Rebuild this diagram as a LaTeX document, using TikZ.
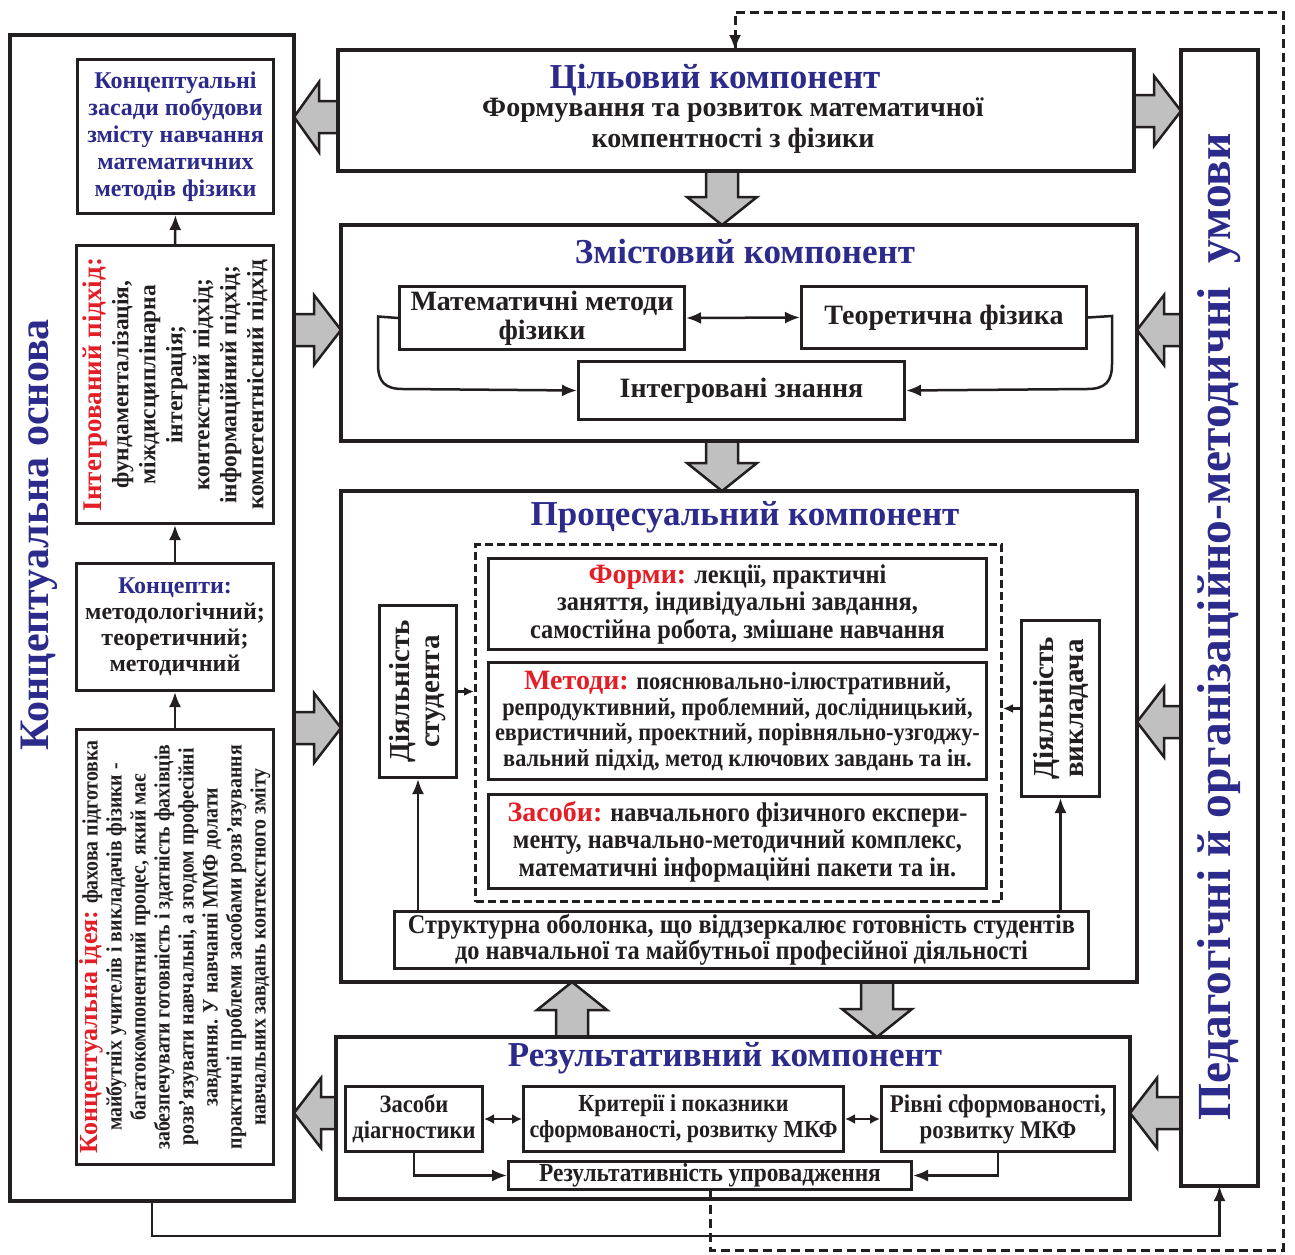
\documentclass[tikz,border=0pt]{standalone}
\usepackage{fontspec}
\setmainfont{Liberation Serif}
\newfontfamily\cnd{Liberation Serif}[FakeStretch=0.9]
\newfontfamily\rgl{Liberation Serif}
\usetikzlibrary{arrows.meta,calc}
\definecolor{tblue}{RGB}{44,42,138}
\definecolor{tred}{RGB}{228,30,38}
\definecolor{agrey}{RGB}{192,192,192}
\definecolor{ink}{RGB}{35,31,32}
\newcommand\hblk[3]{\draw[blk] ($(#1)+(0,-16)$) -- ($(#2)+(#3,-16)$) -- ($(#2)+(#3,-35)$) -- (#2) -- ($(#2)+(#3,35)$) -- ($(#2)+(#3,16)$) -- ($(#1)+(0,16)$) -- cycle;}
\newcommand\vblk[3]{\draw[blk] ($(#1)+(-16,0)$) -- ($(#2)+(-16,#3)$) -- ($(#2)+(-35,#3)$) -- (#2) -- ($(#2)+(35,#3)$) -- ($(#2)+(16,#3)$) -- ($(#1)+(16,0)$) -- cycle;}
\begin{document}
\begin{tikzpicture}[x=1pt,y=-1pt,
  bigbox/.style={draw=ink, line width=4pt, inner sep=0pt, anchor=north west},
  sbox/.style={draw=ink, line width=3pt, fill=white, inner sep=0pt, anchor=north west, align=center, text=ink},
  conn/.style={draw=ink, line width=2.5pt, -{Latex[length=15pt,width=12pt]}},
  sconn/.style={draw=ink, line width=2.5pt, {Latex[length=10pt,width=10pt]}-{Latex[length=10pt,width=10pt]}},
  dconn/.style={draw=ink, line width=2.5pt, {Latex[length=15pt,width=12pt]}-{Latex[length=15pt,width=12pt]}},
  blk/.style={draw=ink, line width=2.5pt, fill=agrey, line join=miter},
  dline/.style={draw=ink, line width=3pt, dash pattern=on 9pt off 5pt},
  ttl/.style={inner sep=0pt, text=tblue, font=\bfseries\fontsize{35}{40}\selectfont},
  body/.style={inner sep=0pt, align=center, text=ink}
]
\useasboundingbox (0,0) rectangle (1295,1254);

% ---------- frames (positions) ----------
\path (10,35) node[bigbox, draw=none, minimum width=280pt, minimum height=1162pt] (lb) {};
\path (338,50) node[bigbox, draw=none, minimum width=792pt, minimum height=117pt] (cil) {};
\path (341,225) node[bigbox, draw=none, minimum width=792pt, minimum height=212pt] (zm) {};
\path (341,491) node[bigbox, draw=none, minimum width=792pt, minimum height=487pt] (pr) {};
\path (336,1037) node[bigbox, draw=none, minimum width=790pt, minimum height=158pt] (rz) {};
\path (1181,50) node[bigbox, draw=none, minimum width=73pt, minimum height=1132pt] (rb) {};

% ---------- block arrows ----------
\coordinate (a1t) at (cil.west |- 0,117); \coordinate (a1h) at (lb.east |- 0,117);
\coordinate (a2t) at (cil.east |- 0,111); \coordinate (a2h) at (rb.west |- 0,111);
\coordinate (a3t) at (lb.east |- 0,330);  \coordinate (a3h) at (zm.west |- 0,330);
\coordinate (a4t) at (rb.west |- 0,330);  \coordinate (a4h) at (zm.east |- 0,330);
\coordinate (a5t) at (lb.east |- 0,728);  \coordinate (a5h) at (pr.west |- 0,728);
\coordinate (a6t) at (rb.west |- 0,722);  \coordinate (a6h) at (pr.east |- 0,722);
\coordinate (a7t) at (rz.west |- 0,1113); \coordinate (a7h) at (lb.east |- 0,1113);
\coordinate (a8t) at (rb.west |- 0,1113); \coordinate (a8h) at (rz.east |- 0,1113);
\hblk{a1t}{a1h}{25}
\hblk{a2t}{a2h}{-27}
\hblk{a3t}{a3h}{-27}
\hblk{a4t}{a4h}{27}
\hblk{a5t}{a5h}{-27}
\hblk{a6t}{a6h}{27}
\hblk{a7t}{a7h}{27}
\hblk{a8t}{a8h}{27}
\coordinate (v1t) at (cil.south -| 722,0); \coordinate (v1h) at (zm.north -| 722,0);
\coordinate (v2t) at (zm.south -| 722,0);  \coordinate (v2h) at (pr.north -| 722,0);
\coordinate (v3t) at (rz.north -| 572,0);  \coordinate (v3h) at (pr.south -| 572,0);
\coordinate (v4t) at (pr.south -| 877,0);  \coordinate (v4h) at (rz.north -| 877,0);
\vblk{v1t}{v1h}{-28}
\vblk{v2t}{v2h}{-28}
\vblk{v3t}{v3h}{28}
\vblk{v4t}{v4h}{-28}

% ---------- big frames drawn ----------
\draw[ink, line width=4pt] (lb.north west) rectangle (lb.south east);
\draw[ink, line width=4pt] (cil.north west) rectangle (cil.south east);
\draw[ink, line width=4pt] (zm.north west) rectangle (zm.south east);
\draw[ink, line width=4pt] (pr.north west) rectangle (pr.south east);
\draw[ink, line width=4pt] (rz.north west) rectangle (rz.south east);
\draw[ink, line width=4pt] (rb.north west) rectangle (rb.south east);

% ---------- left column ----------
\node[sbox, minimum width=196pt, minimum height=154pt, text=tblue,
      font=\bfseries\fontsize{24}{27}\selectfont] (b1) at (76,58)
  {Концептуальні\\засади побудови\\змісту навчання\\математичних\\методів фізики};
\node[sbox, minimum width=197pt, minimum height=278pt] (b2) at (75,244) {};
\node[body, rotate=90, font=\bfseries\fontsize{23.5}{27}\selectfont] at (b2.center)
  {{\color{tred}\fontsize{27}{27}\selectfont Інтегрований підхід:}\\фундаменталізація,\\міждисциплінарна\\інтеграція;\\контекстний підхід;\\інформаційний підхід;\\компетентнісний підхід};
\node[sbox, minimum width=197pt, minimum height=127pt,
      font=\bfseries\fontsize{24}{26}\selectfont] (b3) at (75,562)
  {{\color{tblue}Концепти:}\\методологічний;\\теоретичний;\\методичний};
\node[sbox, minimum width=197pt, minimum height=435pt] (b4) at (75,728) {};
\node[body, rotate=90, font=\cnd\bfseries\fontsize{22}{24}\selectfont] at (b4.center)
  {{\color{tred}\rgl\bfseries\fontsize{26}{24}\selectfont Концептуальна ідея:} фахова підготовка\\
   майбутніх учителів і викладачів фізики -\\
   багатокомпонентний процес, який має\\
   забезпечувати готовність і здатність фахівців\\
   розв’язувати навчальні, а згодом професійні\\
   завдання. У навчанні ММФ долати\\
   практичні проблеми засобами розв’язування\\
   навчальних завдань контекстного зміту};
\draw[conn] (b4.north) -- (b3.south);
\draw[conn] (b3.north) -- (b2.south);
\draw[conn] (b2.north) -- (b1.south);
\node[inner sep=0pt, rotate=90, text=tblue, font=\bfseries\fontsize{42}{46}\selectfont] (lbt) at (39,535) {Концептуальна основа};

% ---------- right column ----------
\node[inner sep=0pt, rotate=90, text=tblue, font=\bfseries\fontsize{47.5}{50}\selectfont] (rbt) at (1219,627) {Педагогічні й організаційно-методичні\ \ умови};

% ---------- Цільовий ----------
\node[ttl] (cilt) at (715,80) {Цільовий компонент};
\node[body, font=\bfseries\fontsize{28}{31}\selectfont] (cilb) at (733,126) {Формування та розвиток математичної\\компентності з фізики};

% ---------- Змістовий ----------
\node[ttl] (zmt) at (745,252) {Змістовий компонент};
\node[sbox, minimum width=285pt, minimum height=63pt, font=\bfseries\fontsize{28}{29}\selectfont] (mmf) at (398,285) {Математичні методи\\фізики};
\node[sbox, minimum width=285pt, minimum height=62pt, font=\bfseries\fontsize{28}{29}\selectfont] (tf) at (800,285) {Теоретична фізика};
\node[sbox, minimum width=326pt, minimum height=58pt, font=\bfseries\fontsize{28}{29}\selectfont] (iz) at (577,360) {Інтегровані знання};
\draw[dconn] (mmf.east) -- (tf.west);
\draw[conn] (mmf.west) -- (378,316.5) -- (378,364) .. controls (378,382) and (385,389) .. (403,389) -- (iz.west);
\draw[conn] (tf.east) -- (1112,316) -- (1112,364) .. controls (1112,382) and (1105,389) .. (1087,389) -- (iz.east);

% ---------- Процесуальний ----------
\node[ttl] (prt) at (745,517) {Процесуальний компонент};
\node[draw=ink, line width=3pt, dash pattern=on 8pt off 4pt, inner sep=0pt, anchor=north west, minimum width=526pt, minimum height=357pt] (dsh) at (474,543) {};
\node[sbox, minimum width=498pt, minimum height=91pt, font=\cnd\bfseries\fontsize{27}{27.5}\selectfont] (fo) at (487,557)
  {{\color{tred}\rgl\bfseries\fontsize{28}{27.5}\selectfont Форми:} лекції, практичні\\заняття, індивідуальні завдання,\\самостійна робота, змішане навчання};
\node[sbox, minimum width=498pt, minimum height=117pt, font=\cnd\bfseries\fontsize{24.8}{25.5}\selectfont] (me) at (487,661)
  {{\color{tred}\rgl\bfseries\fontsize{28}{25.5}\selectfont Методи:} пояснювально-ілюстративний,\\репродуктивний, проблемний, дослідницький,\\евристичний, проектний, порівняльно-узгоджу-\\вальний підхід, метод ключових завдань та ін.};
\node[sbox, minimum width=498pt, minimum height=94pt, font=\cnd\bfseries\fontsize{27}{27.5}\selectfont] (zs) at (487,793)
  {{\color{tred}\rgl\bfseries\fontsize{28}{27.5}\selectfont Засоби:} навчального фізичного експери-\\менту, навчально-методичний комплекс,\\математичні інформаційні пакети та ін.};
\node[sbox, minimum width=77pt, minimum height=172pt] (ds) at (378,604) {};
\node[body, rotate=90, font=\bfseries\fontsize{29}{30}\selectfont] at (ds.center) {Діяльність\\студента};
\node[sbox, minimum width=78pt, minimum height=176pt] (dv) at (1020,619) {};
\node[body, rotate=90, font=\bfseries\fontsize{29}{30}\selectfont] at (dv.center) {Діяльність\\викладача};
\node[sbox, minimum width=694pt, minimum height=57pt, font=\cnd\bfseries\fontsize{27}{26}\selectfont] (so) at (393,910)
  {Структурна оболонка, що віддзеркалює готовність студентів\\до навчальної та майбутньої професійної діяльності};
\draw[draw=ink, line width=2.5pt, -{Latex[length=10pt,width=9pt]}] (ds.east) -- (dsh.west |- ds.east);
\draw[draw=ink, line width=2.5pt, -{Latex[length=10pt,width=9pt]}] (dv.west) -- (dsh.east |- dv.west);
\draw[conn] (so.north -| ds.south) -- (ds.south);
\draw[conn] (so.north -| dv.south) -- (dv.south);

% ---------- Результативний ----------
\node[ttl] (rzt) at (725,1058) {Результативний компонент};
\node[sbox, minimum width=137pt, minimum height=65pt, font=\cnd\bfseries\fontsize{25}{26}\selectfont] (zd) at (344,1085) {Засоби\\діагностики};
\node[sbox, minimum width=320pt, minimum height=65pt, font=\cnd\bfseries\fontsize{24.5}{26}\selectfont] (kp) at (522,1085) {Критерії і показники\\сформованості, розвитку МКФ};
\node[sbox, minimum width=233pt, minimum height=65pt, font=\cnd\bfseries\fontsize{25.5}{26}\selectfont] (rv) at (880,1085) {Рівні сформованості,\\розвитку МКФ};
\node[sbox, minimum width=403pt, minimum height=28pt, font=\cnd\bfseries\fontsize{26}{26}\selectfont] (upr) at (507,1160) {Результативність упровадження};
\draw[sconn] (zd.east) -- (kp.west);
\draw[sconn] (kp.east) -- (rv.west);
\draw[conn] (zd.south) |- (upr.west);
\draw[conn] (rv.south) |- (upr.east);

% ---------- outer connectors ----------
\draw[conn] (lb.south) -- ++(0,35) -| (rb.south);
\draw[dline] (upr.south) -- (upr.south |- 0,1250) -- (1283,1250) -- (1283,12) -- (735,12) -- (cil.north -| 735,0);
\draw[ink, line width=2.5pt, -{Latex[length=15pt,width=12pt]}] (735,30) -- (cil.north -| 735,0);
\end{tikzpicture}
\end{document}
